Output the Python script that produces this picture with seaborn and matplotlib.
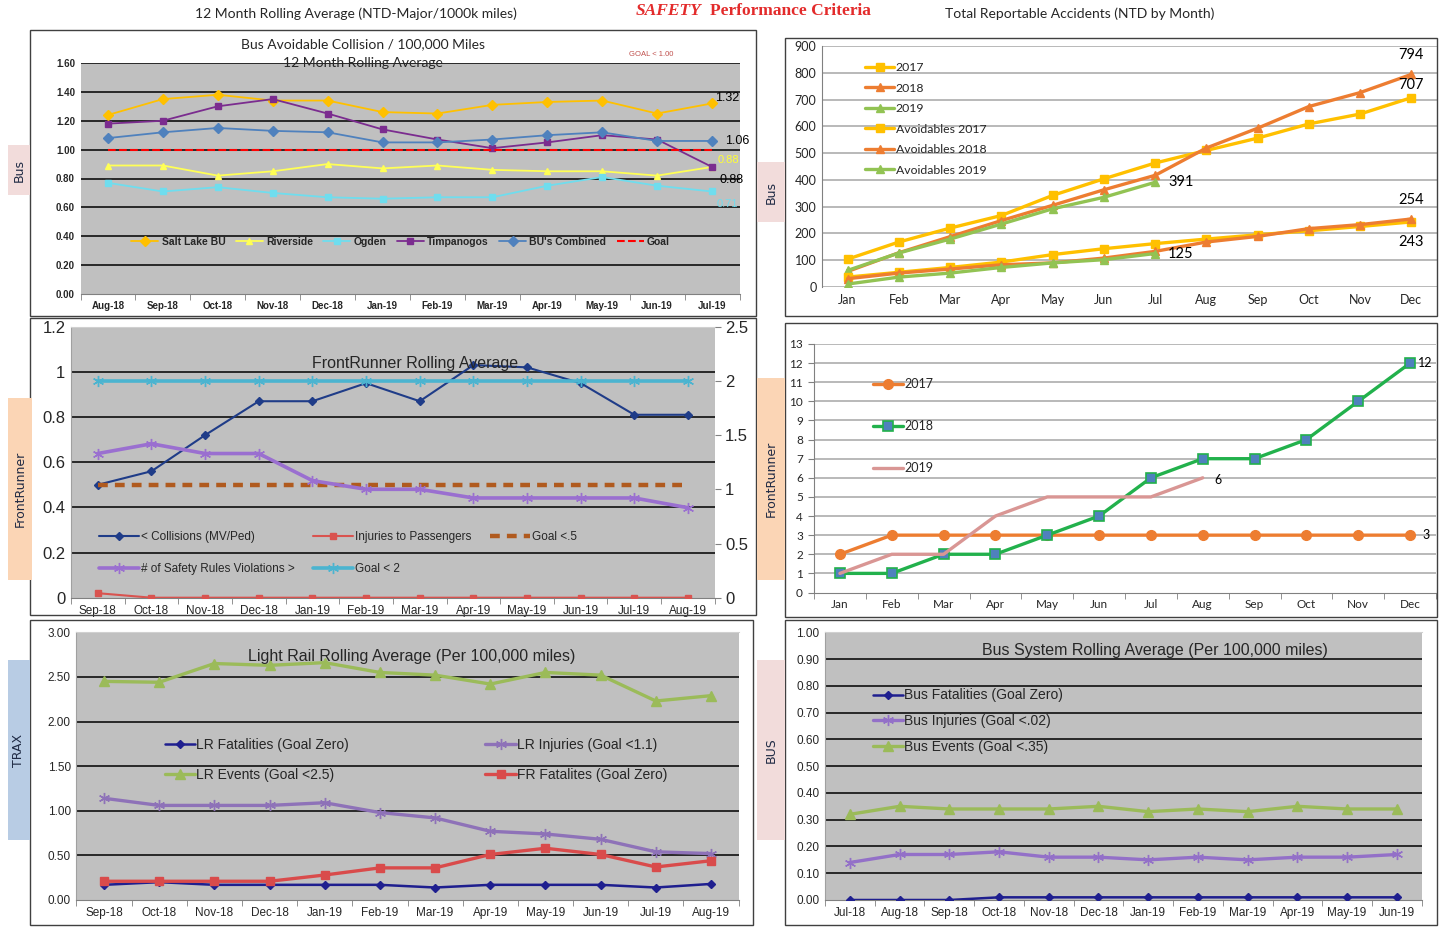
import matplotlib
matplotlib.use("Agg")
import matplotlib.pyplot as plt
from matplotlib import font_manager
from matplotlib.patches import Rectangle
import numpy as np
import seaborn as sns

W, H = 1441, 927

# ---------------- data ----------------
tl_months = ["Aug-18", "Sep-18", "Oct-18", "Nov-18", "Dec-18", "Jan-19",
             "Feb-19", "Mar-19", "Apr-19", "May-19", "Jun-19", "Jul-19"]
salt_lake = [1.24, 1.35, 1.38, 1.34, 1.34, 1.26, 1.25, 1.31, 1.33, 1.34, 1.25, 1.32]
riverside = [0.89, 0.89, 0.82, 0.85, 0.90, 0.87, 0.89, 0.86, 0.85, 0.85, 0.82, 0.88]
ogden = [0.77, 0.71, 0.74, 0.70, 0.67, 0.66, 0.67, 0.67, 0.75, 0.81, 0.75, 0.71]
timpanogos = [1.18, 1.20, 1.30, 1.35, 1.25, 1.14, 1.07, 1.01, 1.05, 1.10, 1.07, 0.88]
bu_combined = [1.08, 1.12, 1.15, 1.13, 1.12, 1.05, 1.05, 1.07, 1.10, 1.12, 1.06, 1.06]
bus_goal = [1.00] * 12

cal_months = ["Jan", "Feb", "Mar", "Apr", "May", "Jun",
              "Jul", "Aug", "Sep", "Oct", "Nov", "Dec"]
total_2017 = [104, 168, 220, 267, 342, 404, 463, 510, 556, 609, 646, 707]
total_2018 = [58, 128, 188, 248, 305, 363, 417, 519, 593, 674, 726, 794]
total_2019 = [62, 127, 179, 235, 292, 335, 391]
avoid_2017 = [37, 55, 73, 93, 121, 143, 162, 179, 195, 210, 226, 243]
avoid_2018 = [31, 52, 67, 83, 90, 108, 133, 168, 189, 218, 233, 254]
avoid_2019 = [11, 37, 52, 73, 90, 102, 125]

fr_months = ["Sep-18", "Oct-18", "Nov-18", "Dec-18", "Jan-19", "Feb-19",
             "Mar-19", "Apr-19", "May-19", "Jun-19", "Jul-19", "Aug-19"]
fr_collisions = [0.50, 0.56, 0.72, 0.87, 0.87, 0.95, 0.87, 1.03, 1.02, 0.95, 0.81, 0.81]
fr_injuries = [0.02, 0, 0, 0, 0, 0, 0, 0, 0, 0, 0, 0]
fr_goal_collisions = [0.5] * 12
fr_violations = [1.33, 1.42, 1.33, 1.33, 1.08, 1.00, 1.00, 0.92, 0.92, 0.92, 0.92, 0.83]
fr_goal_violations = [2.0] * 12

fr_tot_2017 = [2, 3, 3, 3, 3, 3, 3, 3, 3, 3, 3, 3]
fr_tot_2018 = [1, 1, 2, 2, 3, 4, 6, 7, 7, 8, 10, 12]
fr_tot_2019 = [1, 2, 2, 4, 5, 5, 5, 6]

lr_months = fr_months
lr_fatalities = [0.17, 0.20, 0.17, 0.17, 0.17, 0.17, 0.14, 0.17, 0.17, 0.17, 0.14, 0.18]
lr_injuries = [1.14, 1.06, 1.06, 1.06, 1.09, 0.98, 0.92, 0.77, 0.74, 0.68, 0.54, 0.52]
lr_events = [2.45, 2.44, 2.65, 2.63, 2.66, 2.55, 2.52, 2.42, 2.55, 2.52, 2.23, 2.29]
fr_fatalities = [0.21, 0.21, 0.21, 0.21, 0.28, 0.36, 0.36, 0.51, 0.58, 0.51, 0.37, 0.44]

bus_months = ["Jul-18", "Aug-18", "Sep-18", "Oct-18", "Nov-18", "Dec-18",
              "Jan-19", "Feb-19", "Mar-19", "Apr-19", "May-19", "Jun-19"]
bus_fatalities = [0.0, 0.0, 0.0, 0.01, 0.01, 0.01, 0.01, 0.01, 0.01, 0.01, 0.01, 0.01]
bus_injuries = [0.14, 0.17, 0.17, 0.18, 0.16, 0.16, 0.15, 0.16, 0.15, 0.16, 0.16, 0.17]
bus_events = [0.32, 0.35, 0.34, 0.34, 0.34, 0.35, 0.33, 0.34, 0.33, 0.35, 0.34, 0.34]

# ---------------- fonts ----------------
sns.set_style("white")
names = {f.name for f in font_manager.fontManager.ttflist}
NARROW = "Liberation Sans Narrow" if "Liberation Sans Narrow" in names else "Liberation Sans"
CAL = "Lato"
plt.rcParams["font.family"] = [NARROW, "DejaVu Sans"]

fig = plt.figure(figsize=(W / 100, H / 100), dpi=100)


def px_axes(x0, y0, x1, y1):
    return fig.add_axes([x0 / W, 1 - y1 / H, (x1 - x0) / W, (y1 - y0) / H])


def ftext(x, y, s, **kw):
    kw.setdefault("ha", "center")
    kw.setdefault("va", "center")
    return fig.text(x / W, 1 - y / H, s, **kw)


def frame(x0, y0, x1, y1, color="#404040", lw=1.0):
    fig.add_artist(Rectangle((x0 / W, 1 - y1 / H), (x1 - x0) / W, (y1 - y0) / H,
                             transform=fig.transFigure, fill=False,
                             edgecolor=color, lw=lw))


def side_label(x0, y0, x1, y1, s, face):
    fig.add_artist(Rectangle((x0 / W, 1 - y1 / H), (x1 - x0) / W, (y1 - y0) / H,
                             transform=fig.transFigure, facecolor=face,
                             edgecolor="none"))
    ftext((x0 + x1) / 2, (y0 + y1) / 2, s, rotation=90, fontsize=9,
          color="#1F2A44", family="DejaVu Sans")


def category_x(ax, labels, size, fam, right=11.5):
    ax.set_xlim(-0.5, right)
    ax.set_xticks(range(len(labels)))
    ax.set_xticklabels(labels, fontsize=size, fontfamily=fam)
    ax.set_xticks(np.arange(-0.5, 12, 1), minor=True)
    ax.tick_params(axis="x", which="major", length=0, pad=5)
    ax.tick_params(axis="x", which="minor", length=4, color="#808080", bottom=True)


def y_axis(ax, lo, hi, step, fmt, size, fam, grid_color, grid_lines):
    ax.set_ylim(lo, hi)
    ticks = np.arange(lo, hi + step / 2, step)
    ax.set_yticks(ticks)
    ax.set_yticklabels([fmt.format(t) for t in ticks], fontsize=size, fontfamily=fam)
    ax.tick_params(axis="y", length=0, pad=4)
    for t in grid_lines:
        ax.axhline(t, color=grid_color, lw=1.1, zorder=1)


def gray_style(ax):
    ax.set_facecolor("#C0C0C0")
    for s in ax.spines.values():
        s.set_visible(False)
    ax.spines["bottom"].set_visible(True)
    ax.spines["bottom"].set_color("#808080")
    ax.spines["left"].set_visible(True)
    ax.spines["left"].set_color("#A0A0A0")


def line(ax, xs, ys, color, marker=None, ms=5, lw=1.5, label=None, ls="-",
         mfc=None, mec=None, mew=1.0):
    sns.lineplot(x=xs, y=ys, ax=ax, color=color, marker=marker, markersize=ms,
                 linewidth=lw, linestyle=ls, label=label, sort=False,
                 markerfacecolor=mfc or color, markeredgecolor=mec or color,
                 markeredgewidth=mew, zorder=3)


def label_at(ax, x, y, s, dx, dy, color="black", size=9, ha="left", fam=None):
    ax.annotate(s, xy=(x, y), xytext=(dx, dy), textcoords="offset pixels",
                ha=ha, va="center", fontsize=size, color=color,
                fontfamily=fam or NARROW, annotation_clip=False)


ASTER = (6, 2, 0)

# ---------------- header ----------------
ftext(356, 14, "12 Month Rolling Average (NTD-Major/1000k miles)", fontsize=10, family=CAL)
ftext(669, 11, "SAFETY", fontsize=12.5, color="#E32B2B", family="Liberation Serif",
      fontweight="bold", style="italic")
ftext(790, 11, "Performance Criteria", fontsize=12.5, color="#E32B2B",
      family="Liberation Serif", fontweight="bold")
ftext(1080, 14, "Total Reportable Accidents (NTD by Month)", fontsize=10, family=CAL)

# frames
frame(30, 30, 756, 316)
frame(785, 38, 1437, 316)
frame(30, 318, 756, 615)
frame(785, 323, 1437, 617)
frame(30, 620, 753, 925)
frame(785, 620, 1437, 925)

side_label(8, 145, 30, 195, "Bus", "#F2DCDB")
side_label(757, 162, 785, 222, "Bus", "#F2DCDB")
side_label(8, 398, 32, 580, "FrontRunner", "#FBD5B5")
side_label(757, 378, 785, 580, "FrontRunner", "#FBD5B5")
side_label(8, 660, 30, 840, "TRAX", "#B8CCE4")
side_label(757, 660, 785, 840, "BUS", "#F2DCDB")

x12 = np.arange(12)

# ---------------- top left: bus avoidable collisions ----------------
ax = px_axes(80.5, 63, 739.5, 294)
gray_style(ax)
ax.spines["left"].set_visible(False)
y_axis(ax, 0, 1.6, 0.2, "{:.2f}", 7, NARROW, "black", np.arange(0.2, 1.61, 0.2))
category_x(ax, tl_months, 7, NARROW)
for lbl in ax.get_xticklabels() + ax.get_yticklabels():
    lbl.set_fontweight("bold")
line(ax, x12, salt_lake, "#FFC000", "D", 5, 1.3, "Salt Lake BU")
line(ax, x12, riverside, "#FFFF55", "^", 5, 1.3, "Riverside")
line(ax, x12, ogden, "#6FDDEE", "s", 4, 1.3, "Ogden")
line(ax, x12, timpanogos, "#7B2C8F", "s", 4, 1.3, "Timpanogos")
line(ax, x12, bu_combined, "#4F81BD", "D", 5, 1.3, "BU's Combined")
line(ax, x12, bus_goal, "#FF0000", None, 5, 1.5, "Goal", ls="--")
ax.legend(loc="center left", bbox_to_anchor=(122 / W, 1 - 242 / H),
          bbox_transform=fig.transFigure, ncol=6, frameon=False,
          handlelength=2.6, handletextpad=0.3, columnspacing=1.0,
          prop={"family": NARROW, "weight": "bold", "size": 7.5})
label_at(ax, 11, salt_lake[-1], "1.32", 3, 5, size=9)
label_at(ax, 11, bu_combined[-1], "1.06", 13, 0, size=9)
label_at(ax, 11, riverside[-1], "0.88", 6, 7, color="#FFFF33", size=8)
label_at(ax, 11, timpanogos[-1], "0.88", 7, -13, size=9)
label_at(ax, 11, ogden[-1], "0.71", 5, -13, color="#6FDDEE", size=8)
ftext(363, 44, "Bus Avoidable Collision / 100,000 Miles", fontsize=10, family=CAL)
ftext(363, 63, "12 Month Rolling Average", fontsize=10, family=CAL)
ftext(651, 55, "GOAL < 1.00", fontsize=5.5, color="#C0504D", family=NARROW)

# ---------------- top right: total reportable accidents ----------------
ax = px_axes(822, 46, 1437, 287)
ax.set_facecolor("white")
for s in ax.spines.values():
    s.set_visible(False)
ax.spines["left"].set_visible(True)
ax.spines["left"].set_color("#808080")
y_axis(ax, 0, 900, 100, "{:.0f}", 9, CAL, "#A6A6A6", np.arange(100, 901, 100))
category_x(ax, cal_months, 9, CAL, right=11.4)
ax.tick_params(axis="x", which="minor", length=0)
ax.axhline(0, color="#A6A6A6", lw=1.1, zorder=1)
line(ax, x12, total_2017, "#FFC000", "s", 6, 2.4, "2017")
line(ax, x12, total_2018, "#ED7D31", "^", 6, 2.4, "2018")
line(ax, np.arange(7), total_2019, "#92C353", "^", 6, 2.4, "2019")
line(ax, x12, avoid_2017, "#FFC000", "s", 6, 2.4, "Avoidables 2017")
line(ax, x12, avoid_2018, "#ED7D31", "^", 6, 2.4, "Avoidables 2018")
line(ax, np.arange(7), avoid_2019, "#92C353", "^", 6, 2.4, "Avoidables 2019")
ax.legend(loc="upper left", bbox_to_anchor=(854 / W, 1 - 51 / H),
          bbox_transform=fig.transFigure, frameon=False,
          handlelength=2.4, handletextpad=0.1, labelspacing=0.78,
          prop={"family": CAL, "size": 8.8})
label_at(ax, 11, total_2018[-1], "794", 0, 19, size=10.5, ha="center", fam=CAL)
label_at(ax, 11, total_2017[-1], "707", 0, 13, size=10.5, ha="center", fam=CAL)
label_at(ax, 6, total_2019[-1], "391", 13, 0, size=10.5, fam=CAL)
label_at(ax, 11, avoid_2018[-1], "254", 0, 19, size=10.5, ha="center", fam=CAL)
label_at(ax, 11, avoid_2017[-1], "243", 0, -20, size=10.5, ha="center", fam=CAL)
label_at(ax, 6, avoid_2019[-1], "125", 13, 0, size=10.5, fam=CAL)

# ---------------- middle left: FrontRunner rolling average ----------------
ax = px_axes(71, 326.7, 714.8, 597.7)
gray_style(ax)
ax.spines["top"].set_visible(True)
ax.spines["top"].set_color("#D0D0D0")
y_axis(ax, 0, 1.2, 0.2, "{:g}", 12, NARROW, "black", np.arange(0.2, 1.01, 0.2))
category_x(ax, fr_months, 8.5, NARROW)
axr = ax.twinx()
axr.set_ylim(0, 2.5)
axr.set_yticks(np.arange(0, 2.51, 0.5))
axr.set_yticklabels(["0", "0.5", "1", "1.5", "2", "2.5"], fontsize=12, fontfamily=NARROW)
axr.tick_params(axis="y", length=4, color="#808080")
for s in axr.spines.values():
    s.set_visible(False)
line(ax, x12, fr_collisions, "#1F3C88", "D", 4, 1.5, "< Collisions (MV/Ped)")
line(ax, x12, fr_injuries, "#D9534F", "s", 5, 1.5, "Injuries to Passengers")
line(ax, x12, fr_goal_collisions, "#B05A1E", None, 5, 3.2, "Goal <.5", ls=(0, (2.2, 1.6)))
line(axr, x12, fr_violations, "#9A6FD0", ASTER, 8, 2.6, "# of Safety Rules Violations >")
line(axr, x12, fr_goal_violations, "#4BB4D0", ASTER, 8, 2.6, "Goal < 2")
h1, l1 = ax.get_legend_handles_labels()
h2, l2 = axr.get_legend_handles_labels()
if ax.get_legend():
    ax.get_legend().remove()
order = [0, 3, 1, 4, 2]
hs, ls = h1 + h2, l1 + l2
axr.legend([hs[i] for i in order], [ls[i] for i in order], loc="center left",
           bbox_to_anchor=(88 / W, 1 - 553 / H), bbox_transform=fig.transFigure,
           ncol=3, frameon=False, handlelength=3.4, handletextpad=0.15,
           columnspacing=1.6, labelspacing=1.75,
           prop={"family": NARROW, "size": 8.5})
ftext(415, 364, "FrontRunner Rolling Average", fontsize=11.5, family=NARROW)

# ---------------- middle right: FrontRunner totals ----------------
ax = px_axes(814, 344, 1436, 592.5)
ax.set_facecolor("white")
for s in ax.spines.values():
    s.set_visible(False)
ax.spines["left"].set_visible(True)
ax.spines["left"].set_color("#808080")
ax.spines["bottom"].set_visible(True)
ax.spines["bottom"].set_color("#808080")
y_axis(ax, 0, 13, 1, "{:.0f}", 8.5, CAL, "#A6A6A6", np.arange(1, 13.5, 1))
ax.tick_params(axis="y", length=4, color="#808080", left=True)
category_x(ax, cal_months, 8.5, CAL)
line(ax, x12, fr_tot_2017, "#ED7D31", "o", 7, 2.4, "2017")
line(ax, x12, fr_tot_2018, "#22B14C", "s", 7, 2.4, "2018", mfc="#4F81BD", mec="#22B14C", mew=1.2)
line(ax, np.arange(8), fr_tot_2019, "#D99694", None, 5, 2.4, "2019")
ax.legend(loc="upper left", bbox_to_anchor=(862 / W, 1 - 367 / H),
          bbox_transform=fig.transFigure, frameon=False,
          handlelength=2.4, handletextpad=0.1, labelspacing=2.4,
          prop={"family": CAL, "size": 9})
label_at(ax, 11, fr_tot_2018[-1], "12", 8, 0, size=9, fam=CAL)
label_at(ax, 11, fr_tot_2017[-1], "3", 12, 0, size=9, fam=CAL)
label_at(ax, 7, fr_tot_2019[-1], "6", 12, -2, size=9, fam=CAL)

# ---------------- bottom left: light rail ----------------
ax = px_axes(76.4, 632.3, 738.6, 900)
gray_style(ax)
ax.spines["top"].set_visible(True)
ax.spines["top"].set_color("#D0D0D0")
y_axis(ax, 0, 3.0, 0.5, "{:.2f}", 8.5, NARROW, "black", np.arange(0.5, 2.51, 0.5))
category_x(ax, lr_months, 8.5, NARROW)
line(ax, x12, lr_fatalities, "#1F1F8F", "D", 4.5, 1.8, "LR Fatalities (Goal Zero)")
line(ax, x12, lr_events, "#9BBB59", "^", 7, 2.4, "LR Events (Goal <2.5)")
line(ax, x12, lr_injuries, "#8E72B8", ASTER, 8, 2.4, "LR Injuries (Goal <1.1)")
line(ax, x12, fr_fatalities, "#D94B4B", "s", 6, 2.4, "FR Fatalites (Goal Zero)")
ax.legend(loc="center left", bbox_to_anchor=(152 / W, 1 - 760 / H),
          bbox_transform=fig.transFigure, ncol=2, frameon=False,
          handlelength=2.2, handletextpad=0.1, columnspacing=9.8,
          labelspacing=1.2, prop={"family": NARROW, "size": 10})
ftext(412, 657, "Light Rail Rolling Average (Per 100,000 miles)", fontsize=11.5, family=NARROW)

# ---------------- bottom right: bus system ----------------
ax = px_axes(825, 632.3, 1421.7, 900)
gray_style(ax)
ax.spines["top"].set_visible(True)
ax.spines["top"].set_color("#D0D0D0")
y_axis(ax, 0, 1.0, 0.1, "{:.2f}", 8.5, NARROW, "black", np.arange(0.1, 0.91, 0.1))
category_x(ax, bus_months, 8.5, NARROW)
line(ax, x12, bus_fatalities, "#1F1F8F", "D", 4.5, 1.8, "Bus Fatalities (Goal Zero)")
line(ax, x12, bus_injuries, "#9370C8", ASTER, 8, 2.4, "Bus Injuries (Goal <.02)")
line(ax, x12, bus_events, "#9BBB59", "^", 7, 2.4, "Bus Events (Goal <.35)")
ax.legend(loc="upper left", bbox_to_anchor=(860 / W, 1 - 676 / H),
          bbox_transform=fig.transFigure, frameon=False,
          handlelength=2.2, handletextpad=0.1, labelspacing=0.85,
          prop={"family": NARROW, "size": 10})
ftext(1155, 650, "Bus System Rolling Average (Per 100,000 miles)", fontsize=11.5, family=NARROW)

fig.savefig("out.png", dpi=100)
